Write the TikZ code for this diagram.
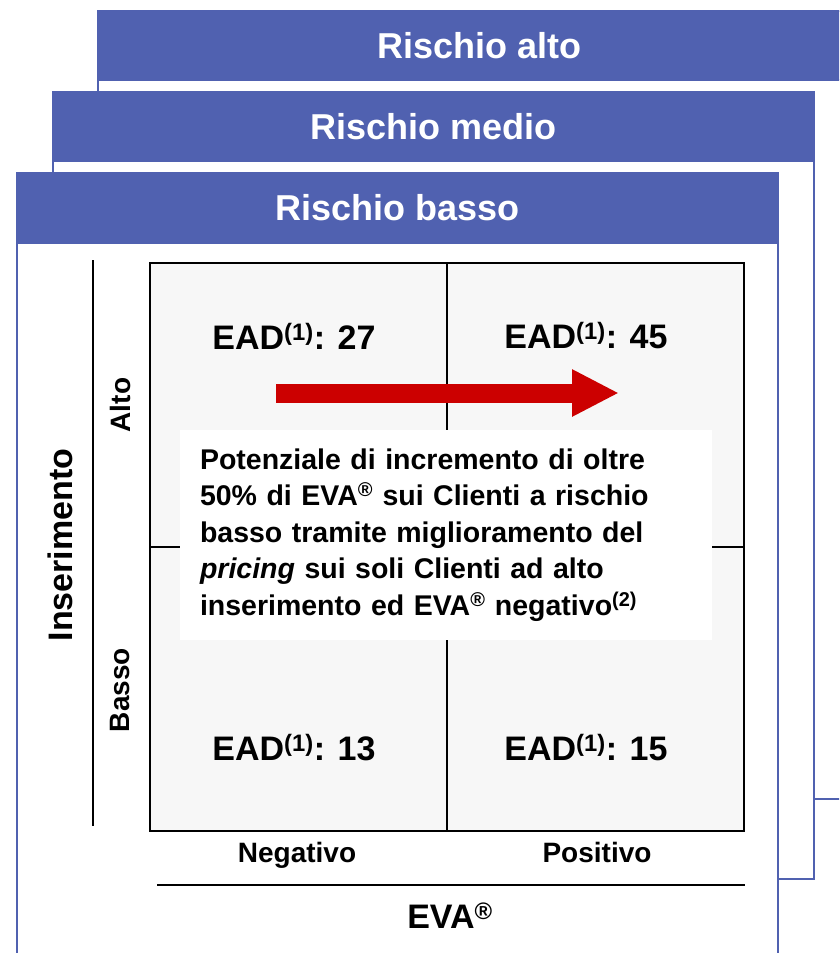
\documentclass[tikz,border=0pt]{standalone}
\usepackage{fontspec}
\setmainfont{Liberation Sans}
\usetikzlibrary{arrows.meta, positioning}
\definecolor{myblue}{RGB}{80,97,176}
\definecolor{myred}{RGB}{204,0,0}
\definecolor{cellgray}{RGB}{247,247,247}
\tikzset{
  panel/.style={rectangle, draw=myblue, fill=white, line width=1.6pt,
    anchor=north west, inner sep=0pt},
  hdr/.style={rectangle, draw=myblue, fill=myblue, line width=1.6pt,
    anchor=north west, inner sep=0pt, minimum height=69pt, text=white,
    font=\fontsize{36}{40}\selectfont\bfseries},
  cell/.style={rectangle, draw=black, fill=cellgray, line width=2pt,
    minimum width=297pt, minimum height=284pt, anchor=north west, inner sep=0pt},
  ead/.style={font=\fontsize{34}{40}\selectfont\bfseries},
  axis/.style={font=\fontsize{28}{32}\selectfont\bfseries},
  axisline/.style={line width=2pt, color=black},
  bigarrow/.style={-{Triangle[length=47pt,width=44pt]}, line width=19pt, color=myred}
}

\begin{document}
\begin{tikzpicture}[x=1pt, y=-1pt]
  \useasboundingbox (0,0) rectangle (839,953);
  \clip (0,0) rectangle (839,953);

  % Back panel: high risk
  \node[panel, minimum width=764pt, minimum height=788pt] (alto) at (97,10) {};
  \node[hdr, minimum width=764pt] (altohdr) at (97,10) {Rischio alto};

  % Middle panel: medium risk
  \node[panel, minimum width=761pt, minimum height=787pt] (medio) at (52,91) {};
  \node[hdr, minimum width=761pt] (mediohdr) at (52,91) {Rischio medio};

  % Front panel: low risk
  \node[panel, minimum width=761pt, minimum height=820pt] (basso) at (16,172) {};
  \node[hdr, minimum width=761pt, minimum height=70pt] (bassohdr) at (16,172) {Rischio basso};

  % Matrix cells
  \node[cell] (c11) at (149,262) {};
  \node[cell] (c12) at (446,262) {};
  \node[cell] (c21) at (149,546) {};
  \node[cell] (c22) at (446,546) {};

  % Cell values
  \node[ead] (ead27) at (294,336) {EAD\textsuperscript{(1)}: 27};
  \node[ead] (ead45) at (586,336) {EAD\textsuperscript{(1)}: 45};
  \node[ead] (ead13) at (294,748) {EAD\textsuperscript{(1)}: 13};
  \node[ead] (ead15) at (586,748) {EAD\textsuperscript{(1)}: 15};

  % Red arrow
  \coordinate (arrS) at (276,393);
  \coordinate (arrE) at (619,393);
  \draw[bigarrow] (arrS) -- (arrE);

  % Note box
  \node[rectangle, fill=white, minimum width=532pt, minimum height=210pt,
    text width=492pt, inner xsep=20pt, align=left,
    font=\fontsize{28.5}{36.5}\selectfont\bfseries] (note) at (446,535)
    {Potenziale di incremento di oltre\\
     50\% di EVA\textsuperscript{®} sui Clienti a rischio\\
     basso tramite miglioramento del\\
     \textit{pricing} sui soli Clienti ad alto\\
     inserimento ed EVA\textsuperscript{®} negativo\textsuperscript{(2)}};

  % Vertical axis
  \coordinate (insTop) at (93,260);
  \coordinate (insBot) at (93,826);
  \draw[axisline] (insTop) -- (insBot);
  \node[font=\fontsize{34}{40}\selectfont\bfseries, rotate=90] (ins) at (60,545) {Inserimento};
  \node[axis, rotate=90] (hi) at (120,405) {Alto};
  \node[axis, rotate=90] (lo) at (120,690) {Basso};

  % Horizontal axis
  \node[axis, anchor=base] (neg) at (297,862) {Negativo};
  \node[axis, anchor=base] (pos) at (597,862) {Positivo};
  \coordinate (evaL) at (157,885);
  \coordinate (evaR) at (745,885);
  \draw[axisline] (evaL) -- (evaR);
  \node[font=\fontsize{34}{40}\selectfont\bfseries] (eva) at (450,916) {EVA\textsuperscript{®}};
\end{tikzpicture}
\end{document}
